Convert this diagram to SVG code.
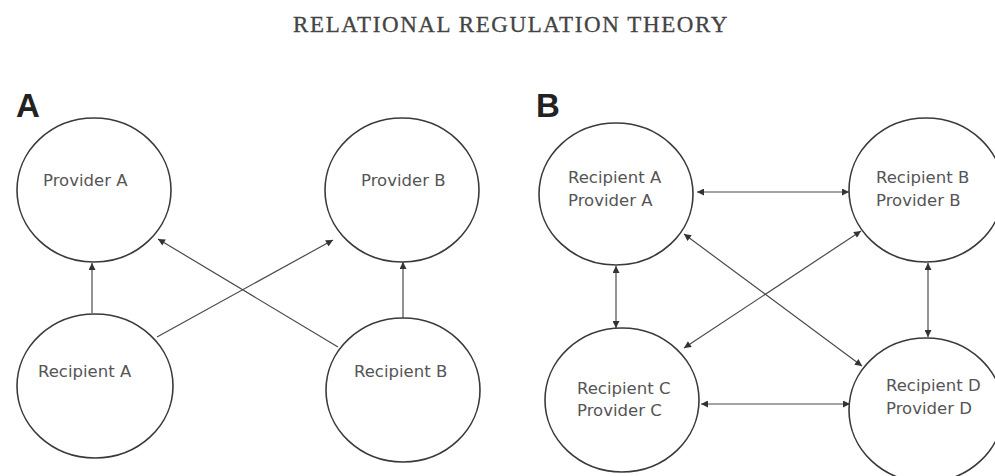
<svg xmlns="http://www.w3.org/2000/svg" width="995" height="476" viewBox="0 0 995 476">
<style>
.node{fill:#fff;stroke:#3a3a3a;stroke-width:1.6}
.lbl{font-family:"DejaVu Sans",Verdana,sans-serif;font-size:16.5px;fill:#555}
.conn{stroke:#4a4a4a;stroke-width:1.2;fill:none}
.title{font-family:"Liberation Serif","Times New Roman",serif;font-size:23px;letter-spacing:1.6px;fill:#444;stroke:#444;stroke-width:0.3;text-anchor:middle}
.panel{font-family:"Liberation Sans",Arial,sans-serif;font-weight:bold;font-size:33px;fill:#222}
</style>
<defs>
<marker id="ah" viewBox="0 0 10 10" refX="10" refY="5" markerWidth="8" markerHeight="7" markerUnits="userSpaceOnUse" orient="auto-start-reverse">
<path d="M0,0 L10,5 L0,10 z" fill="#333"/>
</marker>
</defs>
<rect width="995" height="476" fill="#fff"/>
<text class="title" x="511" y="32">RELATIONAL REGULATION THEORY</text>
<text class="panel" x="16" y="117">A</text>
<text class="panel" x="536" y="117">B</text>

<g id="connectors">
<line class="conn" x1="92" y1="313" x2="92" y2="263" marker-end="url(#ah)"/>
<line class="conn" x1="157" y1="337" x2="333" y2="240" marker-end="url(#ah)"/>
<line class="conn" x1="338" y1="347" x2="158" y2="239" marker-end="url(#ah)"/>
<line class="conn" x1="403" y1="318" x2="403" y2="262" marker-end="url(#ah)"/>
<line class="conn" x1="697" y1="192" x2="849" y2="192" marker-start="url(#ah)" marker-end="url(#ah)"/>
<line class="conn" x1="616" y1="266" x2="616" y2="328" marker-start="url(#ah)" marker-end="url(#ah)"/>
<line class="conn" x1="928" y1="263" x2="928" y2="337" marker-start="url(#ah)" marker-end="url(#ah)"/>
<line class="conn" x1="701" y1="404" x2="850" y2="404" marker-start="url(#ah)" marker-end="url(#ah)"/>
<line class="conn" x1="684" y1="234" x2="862" y2="366" marker-start="url(#ah)" marker-end="url(#ah)"/>
<line class="conn" x1="861" y1="231" x2="684" y2="348" marker-start="url(#ah)" marker-end="url(#ah)"/>
</g>

<g id="providerA"><ellipse class="node" cx="94" cy="190" rx="77" ry="72"/><text class="lbl" x="43" y="186">Provider A</text></g>
<g id="recipientA"><ellipse class="node" cx="95" cy="386" rx="78" ry="72"/><text class="lbl" x="38" y="377">Recipient A</text></g>
<g id="providerB"><ellipse class="node" cx="402" cy="190" rx="77" ry="72"/><text class="lbl" x="361" y="186">Provider B</text></g>
<g id="recipientB"><ellipse class="node" cx="403" cy="390" rx="77" ry="72"/><text class="lbl" x="354" y="377">Recipient B</text></g>

<g id="nodeBA"><ellipse class="node" cx="616" cy="194" rx="77" ry="71"/><text class="lbl" x="568" y="183">Recipient A</text><text class="lbl" x="568" y="206">Provider A</text></g>
<g id="nodeBB"><ellipse class="node" cx="926" cy="190" rx="77" ry="72"/><text class="lbl" x="876" y="183">Recipient B</text><text class="lbl" x="876" y="206">Provider B</text></g>
<g id="nodeBC"><ellipse class="node" cx="622" cy="400" rx="77" ry="72"/><text class="lbl" x="577" y="394">Recipient C</text><text class="lbl" x="577" y="416">Provider C</text></g>
<g id="nodeBD"><ellipse class="node" cx="926" cy="410" rx="77" ry="72"/><text class="lbl" x="886" y="391">Recipient D</text><text class="lbl" x="886" y="414">Provider D</text></g>
</svg>
